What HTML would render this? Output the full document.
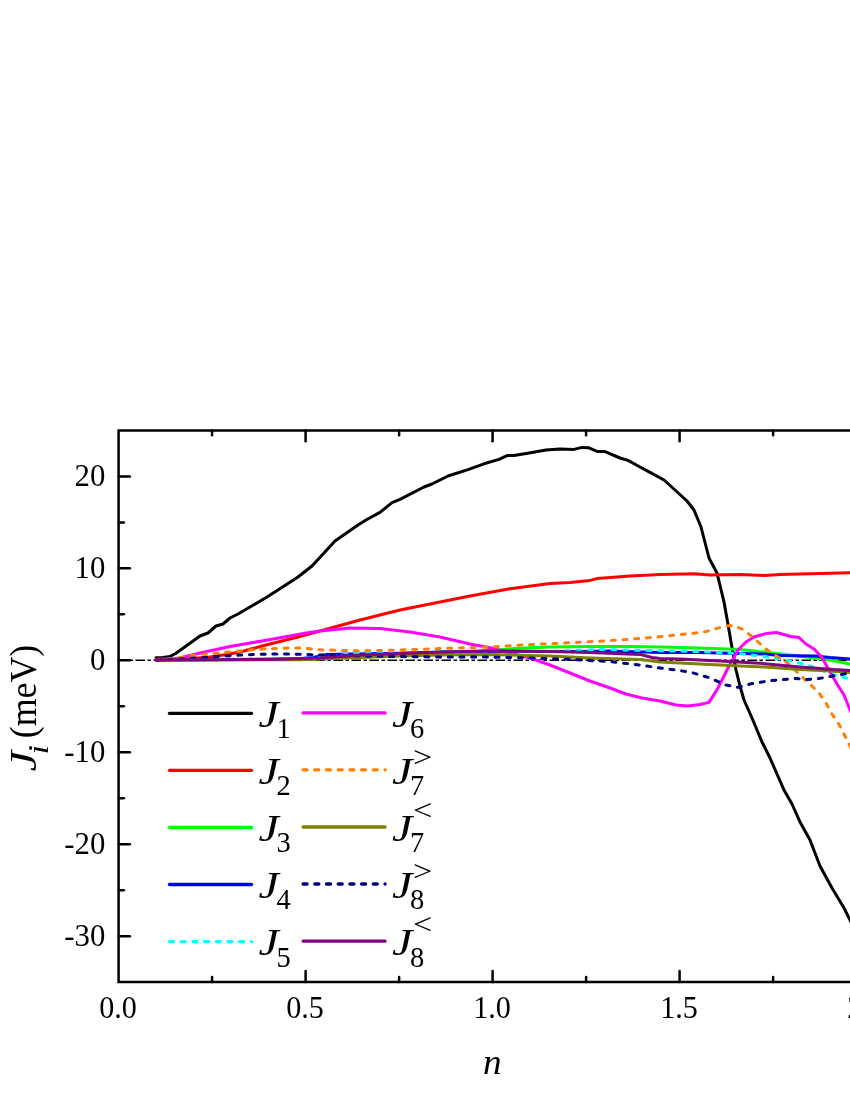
<!DOCTYPE html>
<html><head><meta charset="utf-8"><title>chart</title>
<style>
html,body{margin:0;padding:0;background:#fff;}
body{width:850px;height:1100px;overflow:hidden;position:relative;font-family:"Liberation Serif",serif;}
svg{position:absolute;left:0;top:0;will-change:transform;}
text{font-family:"Liberation Serif",serif;fill:#000;}
.tk{font-size:30.8px;}
.lb{font-size:38px;}
.it{font-style:italic;}
.sb{font-size:28.5px;}
</style></head><body>
<svg width="850" height="1100" viewBox="0 0 850 1100">
<rect x="0" y="0" width="850" height="1100" fill="#fff"/>
<line x1="117.5" y1="660.30" x2="870" y2="660.30" stroke="#000" stroke-width="1.6" stroke-dasharray="9.5 2.5 3.5 2.5"/>
<polyline points="156.0,657.8 163.0,657.5 170.0,656.5 176.0,653.2 200.0,636.0 208.0,633.0 216.0,626.0 223.0,624.0 230.0,618.0 238.0,614.0 250.0,607.0 267.0,597.0 276.0,591.2 298.0,577.0 312.0,566.0 324.0,553.0 335.0,541.0 358.0,525.0 366.0,520.0 380.0,512.4 392.0,502.6 400.0,499.4 424.0,487.0 432.0,484.0 448.0,476.0 468.0,469.6 484.0,463.8 499.0,459.4 507.0,455.6 514.0,455.6 532.0,452.4 546.0,450.0 560.0,449.0 574.0,449.4 582.0,447.4 589.0,447.8 597.0,451.4 605.0,451.6 620.0,458.0 628.0,460.4 640.0,467.0 650.0,472.4 664.0,480.0 675.0,490.0 687.0,501.0 694.0,510.0 701.0,527.0 709.0,558.0 717.0,573.0 724.0,602.0 729.0,630.0 732.4,650.0 736.0,670.0 740.0,686.0 744.0,700.0 752.0,718.0 762.0,742.0 770.0,758.0 784.0,790.0 792.0,804.0 800.0,822.0 810.0,840.0 820.0,866.0 832.0,888.0 844.0,908.0 850.0,920.0 866.0,950.0" fill="none" stroke="#000000" stroke-width="3.0" stroke-linecap="round" stroke-linejoin="round"/>
<polyline points="156.0,658.9 175.0,658.7 192.0,658.4 210.0,657.0 230.0,654.0 244.0,651.0 262.0,646.0 278.0,642.0 298.0,637.0 320.0,631.0 360.0,620.0 400.0,610.0 440.0,602.0 470.0,596.0 510.0,588.8 550.0,583.6 570.0,582.4 590.0,580.4 597.0,578.6 630.0,576.0 660.0,574.4 694.0,573.8 710.0,575.0 740.0,574.6 764.0,575.4 780.0,574.4 810.0,573.8 850.0,572.7 866.0,572.3" fill="none" stroke="#ff0000" stroke-width="3.0" stroke-linecap="round" stroke-linejoin="round"/>
<polyline points="156.0,660.0 300.0,659.4 360.0,656.0 400.0,654.0 440.0,652.3 480.0,651.0 498.0,649.8 520.0,648.2 550.0,647.0 590.0,646.4 630.0,646.4 660.0,647.0 700.0,648.0 740.0,649.6 765.0,652.0 780.0,654.0 815.0,658.0 830.0,660.0 850.0,664.0 866.0,667.0" fill="none" stroke="#00ff00" stroke-width="3.0" stroke-linecap="round" stroke-linejoin="round"/>
<polyline points="156.0,660.0 300.0,658.8 312.0,657.6 326.0,654.6 350.0,654.0 400.0,653.2 440.0,652.3 490.0,651.2 550.0,651.6 580.0,651.5 610.0,651.0 660.0,652.4 700.0,652.6 740.0,653.6 765.0,654.0 780.0,655.6 815.0,656.0 830.0,657.6 850.0,659.0 866.0,660.0" fill="none" stroke="#0000ff" stroke-width="3.0" stroke-linecap="round" stroke-linejoin="round"/>
<polyline points="156.0,660.0 300.0,659.0 330.0,656.0 354.0,653.6 400.0,653.0 440.0,652.0 490.0,651.0 550.0,651.4 576.0,650.4 600.0,649.5 660.0,650.8 700.0,651.6 740.0,653.6 765.0,656.5 777.0,658.5 788.0,660.5 799.0,663.0 809.0,665.5 833.0,674.5 844.0,677.5 866.0,684.0" fill="none" stroke="#00ffff" stroke-width="3.0" stroke-linecap="round" stroke-linejoin="round" stroke-dasharray="4.0 7.7"/>
<polyline points="156.0,660.0 176.0,659.0 200.0,653.0 230.0,646.5 262.0,641.0 290.0,636.0 306.0,633.0 320.0,631.0 350.0,628.0 380.0,628.6 410.0,632.0 440.0,637.0 470.0,644.0 490.0,647.8 510.0,653.0 530.0,658.0 550.0,665.0 570.0,673.0 590.0,681.0 610.0,688.0 626.0,694.0 642.0,698.0 660.0,701.0 676.0,705.0 688.0,706.0 700.0,704.5 709.0,702.4 718.0,688.0 728.0,668.0 738.0,650.0 746.0,642.0 754.0,637.0 766.0,633.6 776.5,632.5 791.0,636.5 799.0,637.5 806.0,644.0 814.0,649.0 822.0,657.5 830.0,672.0 837.0,684.0 844.0,695.0 850.0,710.0 856.0,724.0" fill="none" stroke="#ff00ff" stroke-width="3.0" stroke-linecap="round" stroke-linejoin="round"/>
<polyline points="156.0,660.0 180.0,657.5 200.0,654.4 230.0,652.0 262.0,649.0 290.0,648.0 302.0,648.0 320.0,649.8 360.0,651.0 400.0,650.0 440.0,648.6 490.0,647.0 530.0,644.6 570.0,642.8 610.0,640.6 644.0,638.2 670.0,635.6 694.0,633.2 706.0,631.6 714.0,629.2 722.0,627.0 730.0,625.6 736.0,626.5 744.0,630.0 756.0,640.0 765.0,648.5 775.0,655.0 785.0,661.0 793.0,668.0 801.0,676.0 811.0,685.0 819.0,693.0 826.0,703.0 832.0,714.0 840.0,726.0 850.0,746.0 858.0,765.0" fill="none" stroke="#ff8000" stroke-width="3.0" stroke-linecap="round" stroke-linejoin="round" stroke-dasharray="4.0 7.7"/>
<polyline points="156.0,660.0 300.0,659.8 360.0,657.5 400.0,656.0 440.0,655.0 490.0,654.4 550.0,656.0 590.0,658.0 640.0,659.6 660.0,662.0 700.0,664.0 740.0,666.0 765.0,667.0 800.0,669.5 830.0,671.0 850.0,672.5 866.0,674.0" fill="none" stroke="#808000" stroke-width="3.0" stroke-linecap="round" stroke-linejoin="round"/>
<polyline points="156.0,660.0 180.0,659.0 210.0,657.0 240.0,655.0 270.0,654.0 290.0,654.0 320.0,655.0 360.0,656.0 400.0,656.6 440.0,657.0 490.0,657.0 530.0,658.0 570.0,659.4 610.0,661.6 640.0,665.0 660.0,668.0 690.0,672.0 710.0,678.0 726.0,685.0 738.0,687.4 750.0,684.0 769.0,680.8 795.0,678.5 807.0,679.5 819.0,678.5 844.0,674.0 866.0,670.0" fill="none" stroke="#000080" stroke-width="3.0" stroke-linecap="round" stroke-linejoin="round" stroke-dasharray="4.0 7.7"/>
<polyline points="156.0,660.0 270.0,659.4 300.0,658.6 320.0,658.0 360.0,655.0 400.0,653.6 440.0,652.0 490.0,651.0 550.0,651.6 590.0,652.4 640.0,654.4 652.0,657.5 660.0,658.6 680.0,659.0 720.0,661.0 760.0,663.2 800.0,667.0 830.0,669.2 850.0,670.5 866.0,672.0" fill="none" stroke="#800080" stroke-width="3.0" stroke-linecap="round" stroke-linejoin="round"/>
<g stroke="#000" stroke-width="2.5" fill="none" stroke-linecap="butt">
<path d="M870,430.4 H118.6 V981.9 H870" stroke-linejoin="miter"/>
<line x1="118.6" y1="476.40" x2="129.9" y2="476.40" stroke-linecap="round"/>
<line x1="118.6" y1="522.38" x2="123.89999999999999" y2="522.38" stroke-linecap="round"/>
<line x1="118.6" y1="568.35" x2="129.9" y2="568.35" stroke-linecap="round"/>
<line x1="118.6" y1="614.32" x2="123.89999999999999" y2="614.32" stroke-linecap="round"/>
<line x1="118.6" y1="660.30" x2="129.9" y2="660.30" stroke-linecap="round"/>
<line x1="118.6" y1="706.27" x2="123.89999999999999" y2="706.27" stroke-linecap="round"/>
<line x1="118.6" y1="752.25" x2="129.9" y2="752.25" stroke-linecap="round"/>
<line x1="118.6" y1="798.22" x2="123.89999999999999" y2="798.22" stroke-linecap="round"/>
<line x1="118.6" y1="844.20" x2="129.9" y2="844.20" stroke-linecap="round"/>
<line x1="118.6" y1="890.17" x2="123.89999999999999" y2="890.17" stroke-linecap="round"/>
<line x1="118.6" y1="936.15" x2="129.9" y2="936.15" stroke-linecap="round"/>
<line x1="212.10" y1="981.9" x2="212.10" y2="977.1" stroke-linecap="round"/>
<line x1="212.10" y1="430.4" x2="212.10" y2="435.2" stroke-linecap="round"/>
<line x1="305.60" y1="981.9" x2="305.60" y2="971.1" stroke-linecap="round"/>
<line x1="305.60" y1="430.4" x2="305.60" y2="441.2" stroke-linecap="round"/>
<line x1="399.10" y1="981.9" x2="399.10" y2="977.1" stroke-linecap="round"/>
<line x1="399.10" y1="430.4" x2="399.10" y2="435.2" stroke-linecap="round"/>
<line x1="492.60" y1="981.9" x2="492.60" y2="971.1" stroke-linecap="round"/>
<line x1="492.60" y1="430.4" x2="492.60" y2="441.2" stroke-linecap="round"/>
<line x1="586.10" y1="981.9" x2="586.10" y2="977.1" stroke-linecap="round"/>
<line x1="586.10" y1="430.4" x2="586.10" y2="435.2" stroke-linecap="round"/>
<line x1="679.60" y1="981.9" x2="679.60" y2="971.1" stroke-linecap="round"/>
<line x1="679.60" y1="430.4" x2="679.60" y2="441.2" stroke-linecap="round"/>
<line x1="773.10" y1="981.9" x2="773.10" y2="977.1" stroke-linecap="round"/>
<line x1="773.10" y1="430.4" x2="773.10" y2="435.2" stroke-linecap="round"/>
<line x1="866.60" y1="981.9" x2="866.60" y2="971.1" stroke-linecap="round"/>
<line x1="866.60" y1="430.4" x2="866.60" y2="441.2" stroke-linecap="round"/>
</g>
<text class="tk" x="105.3" y="486.3" text-anchor="end">20</text>
<text class="tk" x="105.3" y="578.2" text-anchor="end">10</text>
<text class="tk" x="105.3" y="670.2" text-anchor="end">0</text>
<text class="tk" x="105.3" y="762.1" text-anchor="end">-10</text>
<text class="tk" x="105.3" y="854.1" text-anchor="end">-20</text>
<text class="tk" x="105.3" y="946.0" text-anchor="end">-30</text>
<text class="tk" transform="translate(118.0,1017.8) scale(0.98,1)" text-anchor="middle">0.0</text>
<text class="tk" transform="translate(305.0,1017.8) scale(0.98,1)" text-anchor="middle">0.5</text>
<text class="tk" transform="translate(492.0,1017.8) scale(0.98,1)" text-anchor="middle">1.0</text>
<text class="tk" transform="translate(679.0,1017.8) scale(0.98,1)" text-anchor="middle">1.5</text>
<text class="tk" transform="translate(866.0,1017.8) scale(0.98,1)" text-anchor="middle">2.0</text>
<text class="it" style="font-size:36.2px" transform="translate(492.4,1074) scale(1.03,1)" text-anchor="middle">n</text>
<text class="lb it" transform="translate(35.6,771.5) rotate(-90) scale(1.22,1)">J</text>
<text class="sb it" transform="translate(47.8,754.6) rotate(-90) scale(1.2,1)">i</text>
<text class="lb" transform="translate(35.6,738.3) rotate(-90) scale(0.943,1)">(meV)</text>
<line x1="169.5" y1="713.3" x2="251.5" y2="713.3" stroke="#000000" stroke-width="3.3" stroke-linecap="round"/>
<text class="lb it" transform="translate(258.5,726.7) scale(1.2,1)">J</text>
<text class="sb" x="276.5" y="738.2">1</text>
<line x1="169.5" y1="770.3" x2="251.5" y2="770.3" stroke="#ff0000" stroke-width="3.3" stroke-linecap="round"/>
<text class="lb it" transform="translate(258.5,783.7) scale(1.2,1)">J</text>
<text class="sb" x="276.5" y="795.2">2</text>
<line x1="169.5" y1="827.5" x2="251.5" y2="827.5" stroke="#00ff00" stroke-width="3.3" stroke-linecap="round"/>
<text class="lb it" transform="translate(258.5,840.9) scale(1.2,1)">J</text>
<text class="sb" x="276.5" y="852.4">3</text>
<line x1="169.5" y1="884.5" x2="251.5" y2="884.5" stroke="#0000ff" stroke-width="3.3" stroke-linecap="round"/>
<text class="lb it" transform="translate(258.5,897.9) scale(1.2,1)">J</text>
<text class="sb" x="276.5" y="909.4">4</text>
<line x1="169.5" y1="941.6" x2="251.5" y2="941.6" stroke="#00ffff" stroke-width="3.3" stroke-linecap="round" stroke-dasharray="4.0 7.7"/>
<text class="lb it" transform="translate(258.5,955.0) scale(1.2,1)">J</text>
<text class="sb" x="276.5" y="966.5">5</text>
<line x1="303.1" y1="712.8" x2="385.1" y2="712.8" stroke="#ff00ff" stroke-width="3.3" stroke-linecap="round"/>
<text class="lb it" transform="translate(392,726.7) scale(1.2,1)">J</text>
<text class="sb" x="410" y="738.2">6</text>
<line x1="303.1" y1="769.8" x2="385.1" y2="769.8" stroke="#ff8000" stroke-width="3.3" stroke-linecap="round" stroke-dasharray="4.0 7.7"/>
<text class="lb it" transform="translate(392,783.7) scale(1.2,1)">J</text>
<text class="sb" x="410" y="795.2">7</text>
<text class="sb" transform="translate(413.0,766.5) scale(1.2,1)">&gt;</text>
<line x1="303.1" y1="827.0" x2="385.1" y2="827.0" stroke="#808000" stroke-width="3.3" stroke-linecap="round"/>
<text class="lb it" transform="translate(392,840.9) scale(1.2,1)">J</text>
<text class="sb" x="410" y="852.4">7</text>
<text class="sb" transform="translate(413.0,819.8) scale(1.2,1)">&lt;</text>
<line x1="303.1" y1="884.0" x2="385.1" y2="884.0" stroke="#000080" stroke-width="3.3" stroke-linecap="round" stroke-dasharray="4.0 7.7"/>
<text class="lb it" transform="translate(392,897.9) scale(1.2,1)">J</text>
<text class="sb" x="410" y="909.4">8</text>
<text class="sb" transform="translate(413.0,880.7) scale(1.2,1)">&gt;</text>
<line x1="303.1" y1="941.1" x2="385.1" y2="941.1" stroke="#800080" stroke-width="3.3" stroke-linecap="round"/>
<text class="lb it" transform="translate(392,955.0) scale(1.2,1)">J</text>
<text class="sb" x="410" y="966.5">8</text>
<text class="sb" transform="translate(413.0,933.9) scale(1.2,1)">&lt;</text>
</svg>
</body></html>
